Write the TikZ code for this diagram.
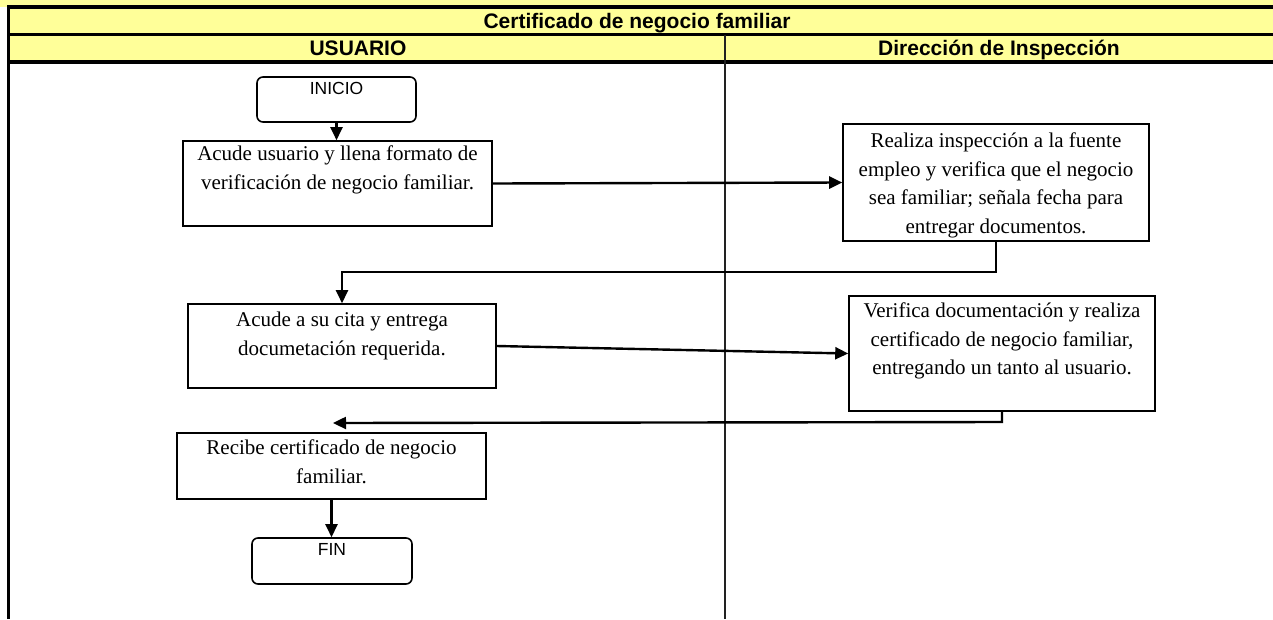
\documentclass[tikz,border=0pt]{standalone}
\usepackage{fontspec}
\setmainfont{Liberation Serif}
\newfontfamily\arialf{Liberation Sans}
\usetikzlibrary{arrows.meta}
\definecolor{hdryellow}{HTML}{FFFF99}
\definecolor{divgray}{HTML}{222222}
\newcommand\boxtxt[4]{\parbox[c][#2][t]{#1}{\centering\vspace*{#3}#4\par}}
\begin{document}
\begin{tikzpicture}[x=1pt,y=-1pt,
  proc/.style={draw, line width=1.6pt, rectangle, inner sep=0pt, font=\fontsize{21}{28.5}\selectfont},
  term/.style={draw, line width=1.6pt, rounded corners=6pt, inner sep=0pt, font=\arialf\fontsize{17.5}{19}\selectfont},
  conn/.style={line width=2.4pt, -{Triangle[length=13pt,width=12pt]}},
  hdr/.style={font=\arialf\bfseries\fontsize{21}{23}\selectfont, inner sep=0pt, anchor=base},
  rule/.style={line width=3.2pt}]
\useasboundingbox (0,0) rectangle (1273,619);
% header background
\fill[hdryellow] (0,0) rectangle (1273,7);
\fill[hdryellow] (8,7) rectangle (1273,62);
% header rules
\draw[rule] (7,7) -- (1273,7);
\draw[rule] (7,34.5) -- (1273,34.5);
\draw[rule] (7,62) -- (1273,62);
\draw[rule] (8.5,5.5) -- (8.5,619);
\draw[line width=2.4pt, divgray] (725,34.5) -- (725,619);
% header texts
\node[hdr] (title) at (637,28) {Certificado de negocio familiar};
\node[hdr] (lane1) at (358,55.5) {USUARIO};
\node[hdr] (lane2) at (999,55.5) {Dirección de Inspección};
% nodes
\node[term, minimum width=159pt, minimum height=45pt] (inicio) at (336.5,99.5)
  {\boxtxt{159pt}{45pt}{5pt}{INICIO}};
\node[proc, minimum width=309pt, minimum height=85pt] (b1) at (337.5,183.5)
  {\boxtxt{309pt}{85pt}{5pt}{Acude usuario y llena formato de\\verificación de negocio familiar.}};
\node[proc, minimum width=306pt, minimum height=117pt] (b2) at (996,182.5)
  {\boxtxt{306pt}{117pt}{9pt}{Realiza inspección a la fuente\\empleo y verifica que el negocio\\sea familiar; señala fecha para\\entregar documentos.}};
\node[proc, minimum width=308pt, minimum height=84pt] (b3) at (342,346)
  {\boxtxt{308pt}{84pt}{8pt}{Acude a su cita y entrega\\documetación requerida.}};
\node[proc, minimum width=306pt, minimum height=115pt] (b4) at (1002,353.5)
  {\boxtxt{306pt}{115pt}{7pt}{Verifica documentación y realiza\\certificado de negocio familiar,\\entregando un tanto al usuario.}};
\node[proc, minimum width=309pt, minimum height=66pt] (b5) at (331.5,466)
  {\boxtxt{309pt}{66pt}{7pt}{Recibe certificado de negocio\\familiar.}};
\node[term, minimum width=160pt, minimum height=46pt] (fin) at (332,561)
  {\boxtxt{160pt}{46pt}{5pt}{FIN}};
% connectors
\coordinate (c1) at (996,272);
\coordinate (c2) at (1002,422);
\coordinate (c3) at (333,423);
\draw[conn] (inicio.south) -- (inicio.south |- b1.north);
\draw[conn] (b1.east) -- (b2.west);
\draw[conn] (b2.south) -- (c1) -| (b3.north);
\draw[conn] (b3.east) -- (b4.west);
\draw[conn] (b4.south) -- (c2) -- (c3);
\draw[conn] (b5.south) -- (b5.south |- fin.north);
\end{tikzpicture}
\end{document}
